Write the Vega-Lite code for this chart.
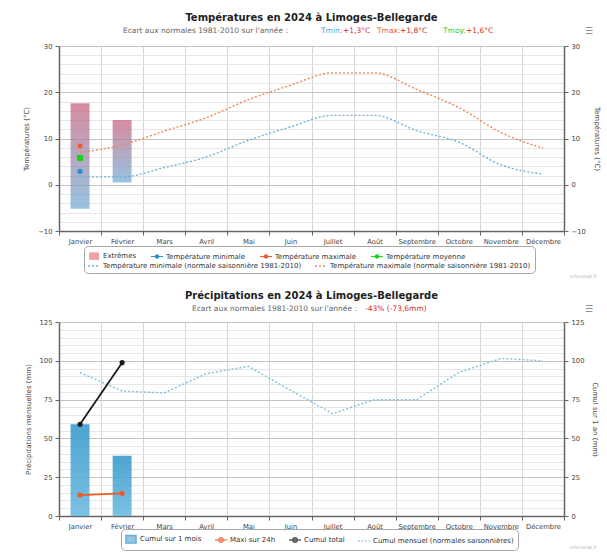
{
  "$schema": "https://vega.github.io/schema/vega-lite/v6.json",
  "background": "#ffffff",
  "padding": {"top": 13, "left": 22, "right": 4, "bottom": 2},
  "spacing": 12,
  "resolve": {
    "scale": {"fill": "independent", "stroke": "independent", "shape": "independent", "color": "independent"},
    "legend": {"fill": "independent", "stroke": "independent", "shape": "independent", "color": "independent"}
  },
  "config": {
    "font": "DejaVu Sans",
    "view": {"stroke": null},
    "axis": {"labelFont": "DejaVu Sans", "labelFontSize": 6.8, "labelColor": "#444444", "titleFont": "DejaVu Sans", "titleFontSize": 7, "titleFontWeight": "normal", "titleColor": "#444444", "domainColor": "#666666", "domainWidth": 1.5, "tickColor": "#666666", "tickSize": 4, "labelOverlap": false, "labelBound": false, "labelFlush": false},
    "legend": {"orient": "none", "direction": "horizontal", "labelFont": "DejaVu Sans", "labelFontSize": 7, "labelColor": "#333333", "labelLimit": 400, "symbolSize": 100, "symbolStrokeWidth": 1.5, "columnPadding": 10, "rowPadding": 2, "labelOffset": 3},
    "title": {"font": "DejaVu Sans", "fontSize": 10, "fontWeight": "bold", "color": "#222222", "anchor": "middle", "offset": 4}
  },
  "vconcat": [
    {
      "title": {"text": "Températures en 2024 à Limoges-Bellegarde"},
      "width": 505,
      "height": 185,
      "resolve": {"scale": {"y": "independent"}},
      "layer": [
        {
          "layer": [
            {
              "data": {"values": [
                {"mois": "Janvier", "min": -5.2, "max": 17.6},
                {"mois": "Février", "min": 0.5, "max": 14.0}
              ]},
              "mark": {"type": "bar", "width": {"band": 0.45}, "opacity": 0.75, "color": {"gradient": "linear", "x1": 0, "y1": 0, "x2": 0, "y2": 1, "stops": [{"offset": 0, "color": "#ca6680"}, {"offset": 1, "color": "#73afd7"}]}},
              "encoding": {
                "x": {"field": "mois", "type": "nominal", "scale": {"domain": ["Janvier","Février","Mars","Avril","Mai","Juin","Juillet","Août","Septembre","Octobre","Novembre","Décembre"], "paddingInner": 0, "paddingOuter": 0}, "axis": {"title": null, "labelAngle": 0, "tickBand": "extent", "grid": true, "gridColor": "#d6d6d6", "labelPadding": 3}},
                "y": {"field": "min", "type": "quantitative", "title": "Températures (°C)", "scale": {"domain": [-10, 30], "nice": false, "zero": false}, "axis": {"values": [-10, 0, 10, 20, 30], "tickCount": 50, "labelOverlap": false, "grid": true, "gridColor": "#c4c4c4", "titlePadding": 8, "labelPadding": 3}},
                "y2": {"field": "max"}
              }
            },
            {
              "data": {"values": [
                {"mois": "Janvier", "serie": "Température minimale (normale saisonnière 1981-2010)", "temp": 1.7},
                {"mois": "Février", "serie": "Température minimale (normale saisonnière 1981-2010)", "temp": 1.7},
                {"mois": "Mars", "serie": "Température minimale (normale saisonnière 1981-2010)", "temp": 3.7},
                {"mois": "Avril", "serie": "Température minimale (normale saisonnière 1981-2010)", "temp": 6.0},
                {"mois": "Mai", "serie": "Température minimale (normale saisonnière 1981-2010)", "temp": 9.6},
                {"mois": "Juin", "serie": "Température minimale (normale saisonnière 1981-2010)", "temp": 12.5},
                {"mois": "Juillet", "serie": "Température minimale (normale saisonnière 1981-2010)", "temp": 15.0},
                {"mois": "Août", "serie": "Température minimale (normale saisonnière 1981-2010)", "temp": 15.0},
                {"mois": "Septembre", "serie": "Température minimale (normale saisonnière 1981-2010)", "temp": 11.7},
                {"mois": "Octobre", "serie": "Température minimale (normale saisonnière 1981-2010)", "temp": 9.2},
                {"mois": "Novembre", "serie": "Température minimale (normale saisonnière 1981-2010)", "temp": 4.3},
                {"mois": "Décembre", "serie": "Température minimale (normale saisonnière 1981-2010)", "temp": 2.3},
                {"mois": "Janvier", "serie": "Température maximale (normale saisonnière 1981-2010)", "temp": 7.0},
                {"mois": "Février", "serie": "Température maximale (normale saisonnière 1981-2010)", "temp": 8.6},
                {"mois": "Mars", "serie": "Température maximale (normale saisonnière 1981-2010)", "temp": 11.6},
                {"mois": "Avril", "serie": "Température maximale (normale saisonnière 1981-2010)", "temp": 14.5},
                {"mois": "Mai", "serie": "Température maximale (normale saisonnière 1981-2010)", "temp": 18.4},
                {"mois": "Juin", "serie": "Température maximale (normale saisonnière 1981-2010)", "temp": 21.5},
                {"mois": "Juillet", "serie": "Température maximale (normale saisonnière 1981-2010)", "temp": 24.2},
                {"mois": "Août", "serie": "Température maximale (normale saisonnière 1981-2010)", "temp": 24.2},
                {"mois": "Septembre", "serie": "Température maximale (normale saisonnière 1981-2010)", "temp": 20.6},
                {"mois": "Octobre", "serie": "Température maximale (normale saisonnière 1981-2010)", "temp": 16.7},
                {"mois": "Novembre", "serie": "Température maximale (normale saisonnière 1981-2010)", "temp": 11.3},
                {"mois": "Décembre", "serie": "Température maximale (normale saisonnière 1981-2010)", "temp": 7.9}
              ]},
              "mark": {"type": "line", "strokeDash": [2, 2], "strokeWidth": 1.4, "interpolate": "monotone"},
              "encoding": {
                "x": {"field": "mois", "type": "nominal"},
                "y": {"field": "temp", "type": "quantitative", "title": "Températures (°C)"},
                "stroke": {"field": "serie", "type": "nominal", "scale": {"domain": ["Température minimale (normale saisonnière 1981-2010)","Température maximale (normale saisonnière 1981-2010)"], "range": ["#6fb3da","#f0875a"]}, "legend": {"title": "\u00a0", "titleFontSize": 8, "titlePadding": 2, "symbolType": "M-1.2,0H1.2", "symbolDash": [2, 2], "legendX": 25, "legendY": 200, "strokeColor": "#a8a8a8", "cornerRadius": 4, "padding": 4}}
              }
            },
            {
              "data": {"values": [{"mois": "Janvier", "serie": "Température minimale", "temp": 2.9}]},
              "mark": {"type": "point", "filled": true, "shape": "circle", "size": 28, "opacity": 1},
              "encoding": {
                "x": {"field": "mois", "type": "nominal"},
                "y": {"field": "temp", "type": "quantitative", "title": "Températures (°C)"},
                "fill": {"field": "serie", "type": "nominal", "scale": {"domain": ["Extrêmes","Température minimale","Température maximale","Température moyenne"], "range": ["#f0a0ac","#2b8fce","#f25a26","#19d119"]}, "legend": {"title": null, "legendX": 29, "legendY": 204, "padding": 0, "columnPadding": 14}}
              }
            },
            {
              "data": {"values": [{"mois": "Janvier", "serie": "Température maximale", "temp": 8.4}]},
              "mark": {"type": "point", "filled": true, "shape": "square", "size": 20, "opacity": 1},
              "encoding": {
                "x": {"field": "mois", "type": "nominal"},
                "y": {"field": "temp", "type": "quantitative", "title": "Températures (°C)"},
                "fill": {"field": "serie", "type": "nominal", "scale": {"domain": ["Extrêmes","Température minimale","Température maximale","Température moyenne"], "range": ["#f0a0ac","#2b8fce","#f25a26","#19d119"]}, "legend": {"title": null, "legendX": 29, "legendY": 204, "padding": 0, "columnPadding": 14}}
              }
            },
            {
              "data": {"values": [{"mois": "Janvier", "serie": "Température moyenne", "temp": 5.8}]},
              "mark": {"type": "point", "filled": true, "shape": "square", "size": 36, "opacity": 1},
              "encoding": {
                "x": {"field": "mois", "type": "nominal"},
                "y": {"field": "temp", "type": "quantitative", "title": "Températures (°C)"},
                "fill": {"field": "serie", "type": "nominal", "scale": {"domain": ["Extrêmes","Température minimale","Température maximale","Température moyenne"], "range": ["#f0a0ac","#2b8fce","#f25a26","#19d119"]}, "legend": {"title": null, "legendX": 29, "legendY": 204, "padding": 0, "columnPadding": 14}}
              }
            },
            {
              "data": {"values": [{"serie": "Extrêmes"}]},
              "transform": [{"filter": "false"}],
              "mark": {"type": "point", "filled": true},
              "encoding": {
                "fill": {"field": "serie", "type": "nominal", "scale": {"domain": ["Extrêmes","Température minimale","Température maximale","Température moyenne"], "range": ["#f0a0ac","#2b8fce","#f25a26","#19d119"]}, "legend": {"title": null, "legendX": 29, "legendY": 204, "padding": 0, "columnPadding": 14}},
                "shape": {"field": "serie", "type": "nominal", "scale": {"domain": ["Extrêmes","Température minimale","Température maximale","Température moyenne"], "range": ["M-1,-0.75H1V0.75H-1Z","M-1.2,-0.12H1.2V0.12H-1.2ZM0.45,0A0.45,0.45,0,1,1,-0.45,0A0.45,0.45,0,1,1,0.45,0Z","M-1.2,-0.12H1.2V0.12H-1.2ZM0.45,0A0.45,0.45,0,1,1,-0.45,0A0.45,0.45,0,1,1,0.45,0Z","M-1.2,-0.12H1.2V0.12H-1.2ZM0.45,0A0.45,0.45,0,1,1,-0.45,0A0.45,0.45,0,1,1,0.45,0Z"]}, "legend": {"title": null, "legendX": 29, "legendY": 204, "padding": 0, "columnPadding": 14}}
              }
            },
            {"data": {"values": [{}]}, "mark": {"type": "text", "text": "Ecart aux normales 1981-2010 sur l'année :", "align": "left", "baseline": "middle", "fontSize": 7.5, "color": "#666666"}, "encoding": {"x": {"value": 64}, "y": {"value": -15}}},
            {"data": {"values": [{}]}, "mark": {"type": "text", "text": "Tmin:", "align": "left", "baseline": "middle", "fontSize": 7.5, "color": "#4a9fd8"}, "encoding": {"x": {"value": 262}, "y": {"value": -15}}},
            {"data": {"values": [{}]}, "mark": {"type": "text", "text": "+1,3°C", "align": "left", "baseline": "middle", "fontSize": 7.5, "color": "#d42a2a"}, "encoding": {"x": {"value": 284}, "y": {"value": -15}}},
            {"data": {"values": [{}]}, "mark": {"type": "text", "text": "Tmax:", "align": "left", "baseline": "middle", "fontSize": 7.5, "color": "#f0603c"}, "encoding": {"x": {"value": 318}, "y": {"value": -15}}},
            {"data": {"values": [{}]}, "mark": {"type": "text", "text": "+1,8°C", "align": "left", "baseline": "middle", "fontSize": 7.5, "color": "#d42a2a"}, "encoding": {"x": {"value": 341}, "y": {"value": -15}}},
            {"data": {"values": [{}]}, "mark": {"type": "text", "text": "Tmoy:", "align": "left", "baseline": "middle", "fontSize": 7.5, "color": "#2ccf2c"}, "encoding": {"x": {"value": 384}, "y": {"value": -15}}},
            {"data": {"values": [{}]}, "mark": {"type": "text", "text": "+1,6°C", "align": "left", "baseline": "middle", "fontSize": 7.5, "color": "#d42a2a"}, "encoding": {"x": {"value": 407}, "y": {"value": -15}}},
            {"data": {"values": [{}]}, "mark": {"type": "text", "text": "☰", "align": "center", "baseline": "middle", "fontSize": 9, "color": "#777777"}, "encoding": {"x": {"value": 530}, "y": {"value": -15}}},
            {"data": {"values": [{}]}, "mark": {"type": "text", "text": "infoclimat.fr", "align": "right", "baseline": "middle", "fontSize": 4.5, "color": "#b0b0b0"}, "encoding": {"x": {"value": 538}, "y": {"value": 231}}}
          ]
        },
        {
          "data": {"values": [{"temp": 2.9}]},
          "mark": {"type": "point", "opacity": 0},
          "encoding": {
            "y": {"field": "temp", "type": "quantitative", "scale": {"domain": [-10, 30], "nice": false, "zero": false}, "axis": {"orient": "left", "values": [-8,-6,-4,-2,2,4,6,8,12,14,16,18,22,24,26,28], "tickCount": 50, "grid": true, "gridColor": "#e6e6e6", "labels": false, "ticks": false, "domain": false, "title": null}}
          }
        },
        {
          "data": {"values": [{"temp": 2.9}]},
          "mark": {"type": "point", "opacity": 0},
          "encoding": {
            "y": {"field": "temp", "type": "quantitative", "scale": {"domain": [-10, 30], "nice": false, "zero": false}, "axis": {"orient": "right", "values": [-10, 0, 10, 20, 30], "tickCount": 50, "labelOverlap": false, "grid": false, "title": "Températures (°C)", "titlePadding": 8, "labelPadding": 3}}
          }
        }
      ]
    },
    {
      "title": {"text": "Précipitations en 2024 à Limoges-Bellegarde"},
      "width": 505,
      "height": 194,
      "resolve": {"scale": {"y": "independent"}},
      "layer": [
        {
          "layer": [
            {
              "data": {"values": [
                {"mois": "Janvier", "serie": "Cumul sur 1 mois", "pluie": 59.1},
                {"mois": "Février", "serie": "Cumul sur 1 mois", "pluie": 38.8}
              ]},
              "mark": {"type": "bar", "width": {"band": 0.45}, "opacity": 0.9, "color": {"gradient": "linear", "x1": 0, "y1": 0, "x2": 0, "y2": 1, "stops": [{"offset": 0, "color": "#3a9bcc"}, {"offset": 1, "color": "#6dbae0"}]}},
              "encoding": {
                "x": {"field": "mois", "type": "nominal", "scale": {"domain": ["Janvier","Février","Mars","Avril","Mai","Juin","Juillet","Août","Septembre","Octobre","Novembre","Décembre"], "paddingInner": 0, "paddingOuter": 0}, "axis": {"title": null, "labelAngle": 0, "tickBand": "extent", "grid": true, "gridColor": "#d6d6d6", "labelPadding": 3}},
                "y": {"field": "pluie", "type": "quantitative", "title": "Précipitations mensuelles (mm)", "scale": {"domain": [0, 125], "nice": false, "zero": false}, "axis": {"values": [0, 25, 50, 75, 100, 125], "tickCount": 50, "labelOverlap": false, "grid": true, "gridColor": "#c4c4c4", "titlePadding": 8, "labelPadding": 3}}
              }
            },
            {
              "data": {"values": [
                {"mois": "Janvier", "serie": "Cumul mensuel (normales saisonnières)", "pluie": 92.4},
                {"mois": "Février", "serie": "Cumul mensuel (normales saisonnières)", "pluie": 80.5},
                {"mois": "Mars", "serie": "Cumul mensuel (normales saisonnières)", "pluie": 79.3},
                {"mois": "Avril", "serie": "Cumul mensuel (normales saisonnières)", "pluie": 91.7},
                {"mois": "Mai", "serie": "Cumul mensuel (normales saisonnières)", "pluie": 96.4},
                {"mois": "Juin", "serie": "Cumul mensuel (normales saisonnières)", "pluie": 81.0},
                {"mois": "Juillet", "serie": "Cumul mensuel (normales saisonnières)", "pluie": 66.0},
                {"mois": "Août", "serie": "Cumul mensuel (normales saisonnières)", "pluie": 75.0},
                {"mois": "Septembre", "serie": "Cumul mensuel (normales saisonnières)", "pluie": 75.0},
                {"mois": "Octobre", "serie": "Cumul mensuel (normales saisonnières)", "pluie": 92.5},
                {"mois": "Novembre", "serie": "Cumul mensuel (normales saisonnières)", "pluie": 101.5},
                {"mois": "Décembre", "serie": "Cumul mensuel (normales saisonnières)", "pluie": 100.0}
              ]},
              "mark": {"type": "line", "strokeDash": [2, 2], "strokeWidth": 1.4},
              "encoding": {
                "x": {"field": "mois", "type": "nominal"},
                "y": {"field": "pluie", "type": "quantitative", "title": "Précipitations mensuelles (mm)"},
                "stroke": {"field": "serie", "type": "nominal", "scale": {"domain": ["Cumul sur 1 mois","Maxi sur 24h","Cumul total","Cumul mensuel (normales saisonnières)"], "range": ["#2a8cc8","#f05a22","#1a1a1a","#7ebfe0"]}, "legend": {"title": null, "legendX": 62, "legendY": 207, "strokeColor": "#a8a8a8", "cornerRadius": 4, "padding": 4}}
              }
            },
            {
              "data": {"values": [
                {"mois": "Janvier", "serie": "Maxi sur 24h", "pluie": 13.5},
                {"mois": "Février", "serie": "Maxi sur 24h", "pluie": 14.6},
                {"mois": "Janvier", "serie": "Cumul total", "pluie": 59.1},
                {"mois": "Février", "serie": "Cumul total", "pluie": 98.8}
              ]},
              "mark": {"type": "line", "strokeWidth": 1.8},
              "encoding": {
                "x": {"field": "mois", "type": "nominal"},
                "y": {"field": "pluie", "type": "quantitative", "title": "Précipitations mensuelles (mm)"},
                "stroke": {"field": "serie", "type": "nominal", "scale": {"domain": ["Cumul sur 1 mois","Maxi sur 24h","Cumul total","Cumul mensuel (normales saisonnières)"], "range": ["#2a8cc8","#f05a22","#1a1a1a","#7ebfe0"]}, "legend": {"title": null, "legendX": 62, "legendY": 207, "strokeColor": "#a8a8a8", "cornerRadius": 4, "padding": 4}}
              }
            },
            {
              "data": {"values": [
                {"mois": "Janvier", "serie": "Maxi sur 24h", "pluie": 13.5},
                {"mois": "Février", "serie": "Maxi sur 24h", "pluie": 14.6},
                {"mois": "Janvier", "serie": "Cumul total", "pluie": 59.1},
                {"mois": "Février", "serie": "Cumul total", "pluie": 98.8}
              ]},
              "mark": {"type": "point", "filled": true, "shape": "circle", "size": 26, "opacity": 1},
              "encoding": {
                "x": {"field": "mois", "type": "nominal"},
                "y": {"field": "pluie", "type": "quantitative", "title": "Précipitations mensuelles (mm)"},
                "fill": {"field": "serie", "type": "nominal", "scale": {"domain": ["Cumul sur 1 mois","Maxi sur 24h","Cumul total","Cumul mensuel (normales saisonnières)"], "range": ["#2a8cc8","#f05a22","#1a1a1a","#7ebfe0"]}, "legend": {"title": null, "legendX": 62, "legendY": 207, "strokeColor": "#a8a8a8", "cornerRadius": 4, "padding": 4}}
              }
            },
            {
              "data": {"values": [{"serie": "Cumul sur 1 mois"}]},
              "transform": [{"filter": "false"}],
              "mark": {"type": "point", "filled": true},
              "encoding": {
                "fill": {"field": "serie", "type": "nominal", "scale": {"domain": ["Cumul sur 1 mois","Maxi sur 24h","Cumul total","Cumul mensuel (normales saisonnières)"], "range": ["#2a8cc8","#f05a22","#1a1a1a","#7ebfe0"]}, "legend": {"title": null, "legendX": 62, "legendY": 207, "strokeColor": "#a8a8a8", "cornerRadius": 4, "padding": 4}},
                "stroke": {"field": "serie", "type": "nominal", "scale": {"domain": ["Cumul sur 1 mois","Maxi sur 24h","Cumul total","Cumul mensuel (normales saisonnières)"], "range": ["#2a8cc8","#f05a22","#1a1a1a","#7ebfe0"]}, "legend": {"title": null, "legendX": 62, "legendY": 207, "strokeColor": "#a8a8a8", "cornerRadius": 4, "padding": 4}},
                "shape": {"field": "serie", "type": "nominal", "scale": {"domain": ["Cumul sur 1 mois","Maxi sur 24h","Cumul total","Cumul mensuel (normales saisonnières)"], "range": ["M-1,-0.75H1V0.75H-1Z","M-1.2,0H1.2M0.45,0A0.45,0.45,0,1,1,-0.45,0A0.45,0.45,0,1,1,0.45,0","M-1.2,0H1.2M0.45,0A0.45,0.45,0,1,1,-0.45,0A0.45,0.45,0,1,1,0.45,0","M-1.2,0H-0.8M-0.5,0H-0.1M0.2,0H0.6M0.9,0H1.2"]}, "legend": {"title": null, "legendX": 62, "legendY": 207, "strokeColor": "#a8a8a8", "cornerRadius": 4, "padding": 4}}
              }
            },
            {"data": {"values": [{}]}, "mark": {"type": "text", "text": "Ecart aux normales 1981-2010 sur l'année :", "align": "left", "baseline": "middle", "fontSize": 7.5, "color": "#666666"}, "encoding": {"x": {"value": 133}, "y": {"value": -13}}},
            {"data": {"values": [{}]}, "mark": {"type": "text", "text": "-43% (-73,6mm)", "align": "left", "baseline": "middle", "fontSize": 7.5, "color": "#d42a2a"}, "encoding": {"x": {"value": 306}, "y": {"value": -13}}},
            {"data": {"values": [{}]}, "mark": {"type": "text", "text": "☰", "align": "center", "baseline": "middle", "fontSize": 9, "color": "#777777"}, "encoding": {"x": {"value": 530}, "y": {"value": -13}}},
            {"data": {"values": [{}]}, "mark": {"type": "text", "text": "infoclimat.fr", "align": "right", "baseline": "middle", "fontSize": 4.5, "color": "#b0b0b0"}, "encoding": {"x": {"value": 538}, "y": {"value": 226}}}
          ]
        },
        {
          "data": {"values": [{"pluie": 59.1}]},
          "mark": {"type": "point", "opacity": 0},
          "encoding": {
            "y": {"field": "pluie", "type": "quantitative", "scale": {"domain": [0, 125], "nice": false, "zero": false}, "axis": {"orient": "left", "values": [5,10,15,20,30,35,40,45,55,60,65,70,80,85,90,95,105,110,115,120], "tickCount": 50, "grid": true, "gridColor": "#e6e6e6", "labels": false, "ticks": false, "domain": false, "title": null}}
          }
        },
        {
          "data": {"values": [{"pluie": 59.1}]},
          "mark": {"type": "point", "opacity": 0},
          "encoding": {
            "y": {"field": "pluie", "type": "quantitative", "scale": {"domain": [0, 125], "nice": false, "zero": false}, "axis": {"orient": "right", "values": [0, 25, 50, 75, 100, 125], "tickCount": 50, "labelOverlap": false, "grid": false, "title": "Cumul sur 1 an (mm)", "titlePadding": 8, "labelPadding": 3}}
          }
        }
      ]
    }
  ]
}
